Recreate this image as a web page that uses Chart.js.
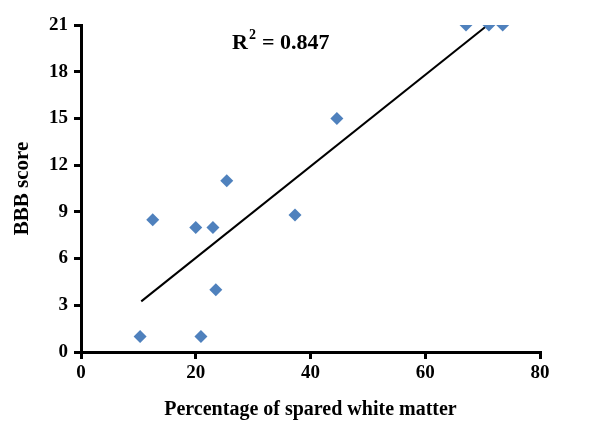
<!DOCTYPE html>
<html lang="en">
<head>
  <meta charset="UTF-8" />
  <title>BBB score vs spared white matter</title>
  <script src="https://cdn.jsdelivr.net/npm/chart.js"></script>
  <style>
    body { margin: 0; background: #fff; }
    #wrap { width: 608px; height: 434px; }
  </style>
</head>
<body>
  <div id="wrap"><canvas id="scatter"></canvas></div>

  <script>
    // values
    const sparedWM = [10.3, 12.5, 20.0, 23.0, 23.5, 20.9, 25.4, 37.3, 44.6, 67.1, 71.1, 73.5];
    const bbbScore = [1, 8.5, 8, 8, 4, 1, 11, 8.8, 15, 21, 21, 21];
    const trendX = [10.5, 70.9];
    const trendY = [3.25, 21];
    const xTicks = [0, 20, 40, 60, 80];
    const yTicks = [0, 3, 6, 9, 12, 15, 18, 21];
    const rSquared = '0.847';

    const serif = '"Liberation Serif", "DejaVu Serif", serif';

    const r2Label = {
      id: 'r2Label',
      afterDraw(chart) {
        const ctx = chart.ctx;
        ctx.save();
        ctx.fillStyle = '#000';
        ctx.textBaseline = 'alphabetic';
        ctx.font = 'bold 22px ' + serif;
        let x = 232, y = 49;
        ctx.fillText('R', x, y);
        x += ctx.measureText('R').width + 1;
        ctx.font = 'bold 14px ' + serif;
        ctx.fillText('2', x, y - 10);
        x += ctx.measureText('2').width + 6;
        ctx.font = 'bold 22px ' + serif;
        ctx.fillText('= ' + rSquared, x, y);
        ctx.restore();
      }
    };

    new Chart(document.getElementById('scatter'), {
      type: 'scatter',
      data: {
        datasets: [
          {
            label: 'BBB',
            data: sparedWM.map((x, i) => ({ x, y: bbbScore[i] })),
            pointStyle: 'rectRot',
            pointRadius: 6.5,
            pointHoverRadius: 6.5,
            backgroundColor: '#4F81BD',
            borderColor: '#4F81BD',
            borderWidth: 0
          },
          {
            label: 'trend',
            data: trendX.map((x, i) => ({ x, y: trendY[i] })),
            showLine: true,
            borderColor: '#000',
            borderWidth: 2,
            pointRadius: 0
          }
        ]
      },
      options: {
        responsive: true,
        maintainAspectRatio: false,
        animation: false,
        layout: { padding: { top: 25, right: 68, left: 0, bottom: 0 } },
        plugins: { legend: { display: false }, tooltip: { enabled: false } },
        scales: {
          x: {
            type: 'linear', min: 0, max: 80,
            afterBuildTicks: s => { s.ticks = xTicks.map(v => ({ value: v })); },
            afterFit: s => { s.height = 82; },
            border: { color: '#000', width: 3 },
            grid: { drawOnChartArea: false, color: '#000', lineWidth: 3, tickLength: 7 },
            ticks: { color: '#000', font: { family: serif, size: 19, weight: 'bold' }, padding: 3 },
            title: { display: true, text: 'Percentage of spared white matter', color: '#000',
              font: { family: serif, size: 20, weight: 'bold' }, padding: { top: 6, bottom: 12 } }
          },
          y: {
            type: 'linear', min: 0, max: 21,
            afterBuildTicks: s => { s.ticks = yTicks.map(v => ({ value: v })); },
            afterFit: s => { s.width = 81; },
            border: { color: '#000', width: 3 },
            grid: { drawOnChartArea: false, color: '#000', lineWidth: 3, tickLength: 7 },
            ticks: { color: '#000', font: { family: serif, size: 19, weight: 'bold' }, padding: 6 },
            title: { display: true, text: 'BBB score', color: '#000',
              font: { family: serif, size: 21, weight: 'bold' }, padding: { top: 10 } }
          }
        }
      },
      plugins: [r2Label]
    });
  </script>
</body>
</html>
